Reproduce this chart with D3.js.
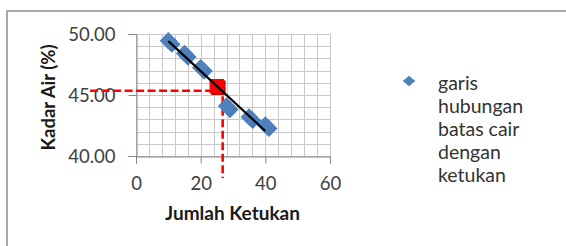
<!DOCTYPE html>
<html>
<head>
<meta charset="utf-8">
<script src="https://cdn.jsdelivr.net/npm/d3@7"></script>
<style>
  body { margin: 0; background: #fff; }
  svg { display: block; font-family: Lato, "Open Sans", sans-serif; }
</style>
</head>
<body>
<svg width="566" height="246"></svg>
<script>
// data
const ketukan = [10, 15, 20, 28, 35, 40];
const kadarAir = [49.45, 48.4, 47.25, 44.1, 43.2, 42.55];
const trendX = [10, 40];
const trendY = [49.42, 42.05];
const batasX = [25];
const batasY = [45.72];
const guideX = [-14.2, 26.8, 26.8];
const guideY = [45.35, 45.35, 38.2];
const xTicks = [0, 20, 40, 60];
const yTicks = [40, 45, 50];
const legendLines = ['garis', 'hubungan', 'batas cair', 'dengan', 'ketukan'];

const svg = d3.select('svg');

// chart border
svg.append('rect')
  .attr('x', 7).attr('y', 11)
  .attr('width', 620).attr('height', 300)
  .attr('fill', 'none')
  .attr('stroke', '#8c8c8c')
  .attr('stroke-width', 1.5);

const x = d3.scaleLinear().domain([0, 60]).range([136, 330]);
const y = d3.scaleLinear().domain([40, 50]).range([156, 34]);

// gridlines (minor every 4 on x, every 1 on y)
const grid = svg.append('g').attr('stroke', '#c8c8c8').attr('stroke-width', 1);
grid.selectAll('.gx')
  .data(d3.range(0, 61, 4))
  .enter().append('line')
  .attr('x1', d => Math.round(x(d)) + 0.5).attr('x2', d => Math.round(x(d)) + 0.5)
  .attr('y1', y(50)).attr('y2', y(40));
grid.selectAll('.gy')
  .data(d3.range(40, 51, 1))
  .enter().append('line')
  .attr('y1', d => Math.round(y(d)) + 0.5).attr('y2', d => Math.round(y(d)) + 0.5)
  .attr('x1', x(0)).attr('x2', x(60));

// axes
const xAxis = svg.append('g')
  .attr('transform', `translate(0,${Math.round(y(40)) + 0.5})`)
  .call(d3.axisBottom(x).tickValues(xTicks).tickSize(7).tickPadding(13).tickFormat(d3.format('d')));
const yAxis = svg.append('g')
  .attr('transform', `translate(${Math.round(x(0)) + 0.5},0)`)
  .call(d3.axisLeft(y).tickValues(yTicks).tickSize(8).tickPadding(13).tickFormat(d3.format('.2f')));

[xAxis, yAxis].forEach(a => {
  a.select('.domain').attr('stroke', '#868686');
  a.selectAll('.tick line').attr('stroke', '#868686');
  a.selectAll('.tick text')
    .attr('fill', '#404040')
    .style('font-family', 'Lato, sans-serif')
    .style('font-size', '18.5px');
});
yAxis.selectAll('.tick text').attr('dy', '0.36em');

// red dashed guide
const guideLine = d3.line().x(d => x(d[0])).y(d => y(d[1]));
svg.append('path')
  .datum(d3.zip(guideX, guideY))
  .attr('d', guideLine)
  .attr('fill', 'none')
  .attr('stroke', '#ff0000')
  .attr('stroke-width', 2.6)
  .attr('stroke-dasharray', '8,3.5');

// markers: diamond with offset shadow
const pts = d3.zip(ketukan, kadarAir);
const diamond = d3.symbol().type(d3.symbolSquare).size(150);
svg.append('g').selectAll('path')
  .data(pts)
  .enter().append('path')
  .attr('d', diamond)
  .attr('transform', d => `translate(${x(d[0]) + 3.5},${y(d[1]) + 3.5}) rotate(45)`)
  .attr('fill', '#4a7ebb');
svg.append('g').selectAll('path')
  .data(pts)
  .enter().append('path')
  .attr('d', diamond)
  .attr('transform', d => `translate(${x(d[0])},${y(d[1])}) rotate(45)`)
  .attr('fill', '#4f81bd');

// red point
const square = d3.symbol().type(d3.symbolSquare).size(210);
const batas = d3.zip(batasX, batasY);
svg.append('g').selectAll('path')
  .data(batas)
  .enter().append('path')
  .attr('d', square)
  .attr('transform', d => `translate(${x(d[0]) + 1.5},${y(d[1]) + 1.5})`)
  .attr('fill', '#c00000');
svg.append('g').selectAll('path')
  .data(batas)
  .enter().append('path')
  .attr('d', square)
  .attr('transform', d => `translate(${x(d[0])},${y(d[1])})`)
  .attr('fill', '#ff0000');

// trend line
svg.append('path')
  .datum(d3.zip(trendX, trendY))
  .attr('d', guideLine)
  .attr('fill', 'none')
  .attr('stroke', '#000')
  .attr('stroke-width', 2.2);

// axis titles
svg.append('text')
  .attr('x', 232.5).attr('y', 220)
  .attr('text-anchor', 'middle')
  .attr('font-weight', 'bold')
  .attr('font-size', 19)
  .attr('fill', '#1a1a1a')
  .text('Jumlah Ketukan');
svg.append('text')
  .attr('transform', 'translate(54.5,97.5) rotate(-90)')
  .attr('text-anchor', 'middle')
  .attr('font-weight', 'bold')
  .attr('font-size', 18.5)
  .attr('fill', '#1a1a1a')
  .text('Kadar Air (%)');

// legend
svg.append('path')
  .attr('d', d3.symbol().type(d3.symbolSquare).size(60))
  .attr('transform', 'translate(409,81) scale(1.15,0.95) rotate(45)')
  .attr('fill', '#4f81bd');
svg.append('g').selectAll('text')
  .data(legendLines)
  .enter().append('text')
  .attr('x', 438)
  .attr('y', (d, i) => 90 + i * 23)
  .attr('font-size', 19.5)
  .attr('fill', '#333')
  .text(d => d);
</script>
</body>
</html>
